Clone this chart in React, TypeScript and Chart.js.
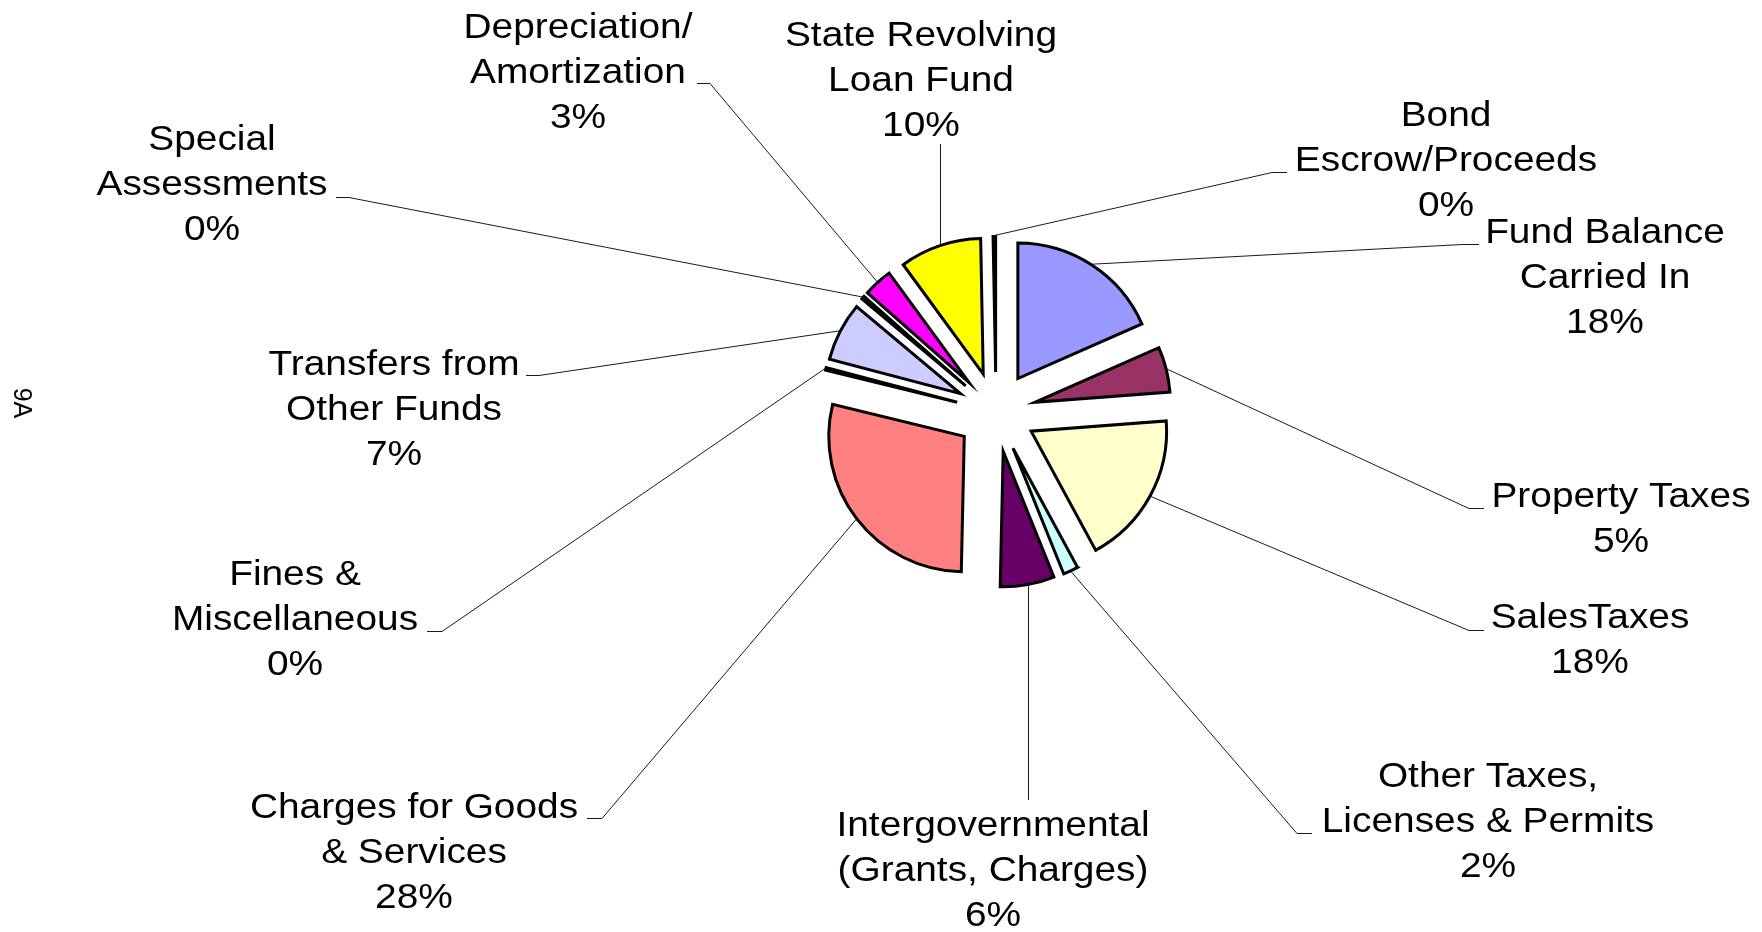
import { useEffect, useRef } from 'react';
import { Chart, registerables } from 'chart.js';

Chart.register(...registerables);

// Revenue sources, clockwise from 12 o'clock
const categories: string[][] = [
  ['Fund Balance', 'Carried In'],
  ['Property Taxes'],
  ['SalesTaxes'],
  ['Other Taxes,', 'Licenses & Permits'],
  ['Intergovernmental', '(Grants, Charges)'],
  ['Charges for Goods', '& Services'],
  ['Fines &', 'Miscellaneous'],
  ['Transfers from', 'Other Funds'],
  ['Special', 'Assessments'],
  ['Depreciation/', 'Amortization'],
  ['State Revolving', 'Loan Fund'],
  ['Bond', 'Escrow/Proceeds'],
];

// Share of total revenue, percent
const shares: number[] = [18.4, 5.4, 18.3, 1.8, 6.45, 28.45, 0.3, 7.0, 0.4, 3.45, 9.75, 0.3];

const sliceColors: string[] = [
  '#9999FF', '#993366', '#FFFFCC', '#CCFFFF', '#660066', '#FF8080',
  '#0066CC', '#CCCCFF', '#000080', '#FF00FF', '#FFFF00', '#00FFFF',
];

const pageMark = '9A';

// Where each data label sits: centre x, first baseline y, leader elbow, end of the short tick.
// A label without a tick gets a straight vertical leader to the elbow height.
type Placement = { x: number; y: number; elbow: [number, number]; tick: number | null };
const labelPlacement: Placement[] = [
  { x: 1605, y: 243, elbow: [1462, 244], tick: 1479 },
  { x: 1621, y: 507, elbow: [1469, 508], tick: 1484 },
  { x: 1590, y: 628, elbow: [1469, 630], tick: 1484 },
  { x: 1488, y: 787, elbow: [1297, 833], tick: 1312 },
  { x: 993, y: 836, elbow: [1024, 800], tick: null },
  { x: 414, y: 818, elbow: [602, 818], tick: 587 },
  { x: 295, y: 585, elbow: [442, 631], tick: 427 },
  { x: 394, y: 375, elbow: [539, 375], tick: 526 },
  { x: 212, y: 150, elbow: [349, 197], tick: 336 },
  { x: 578, y: 38, elbow: [710, 83], tick: 697 },
  { x: 921, y: 46, elbow: [945, 144], tick: null },
  { x: 1446, y: 126, elbow: [1272, 172], tick: 1287 },
];

const WIDTH = 1762;
const HEIGHT = 932;
const EXPLODE = 40;
const RADIUS = 135.5;
const FONT = '35px "Liberation Sans", Arial, sans-serif';
const TEXT_STRETCH = 1.11;
const LINE_HEIGHT = 45;

// Pull every slice out from the common centre along its bisector
const explodePlugin = {
  id: 'explodeSlices',
  beforeDatasetsDraw(chart: any) {
    const { left, right, top, bottom } = chart.chartArea;
    const cx = (left + right) / 2;
    const cy = (top + bottom) / 2;
    chart.getDatasetMeta(0).data.forEach((arc: any) => {
      const mid = (arc.startAngle + arc.endAngle) / 2;
      arc.x = cx + Math.cos(mid) * EXPLODE;
      arc.y = cy + Math.sin(mid) * EXPLODE;
    });
  },
};

// Category / percentage labels with leader lines
const labelPlugin = {
  id: 'sliceLabels',
  afterDraw(chart: any) {
    const ctx: CanvasRenderingContext2D = chart.ctx;
    const total = shares.reduce((a, b) => a + b, 0);
    const arcs = chart.getDatasetMeta(0).data;

    ctx.save();
    ctx.strokeStyle = '#1a1a1a';
    ctx.lineWidth = 1;
    arcs.forEach((arc: any, i: number) => {
      const p = labelPlacement[i];
      const mid = (arc.startAngle + arc.endAngle) / 2;
      const r = arc.outerRadius + 1;
      const sx = arc.x + Math.cos(mid) * r;
      const sy = arc.y + Math.sin(mid) * r;
      ctx.beginPath();
      if (p.tick === null) {
        const vx = Math.round(sx) + 0.5;
        ctx.moveTo(vx, sy);
        ctx.lineTo(vx, p.elbow[1]);
      } else {
        ctx.moveTo(sx, sy);
        ctx.lineTo(p.elbow[0], p.elbow[1] + 0.5);
        ctx.lineTo(p.tick, p.elbow[1] + 0.5);
      }
      ctx.stroke();
    });

    ctx.fillStyle = '#000';
    ctx.font = FONT;
    ctx.textAlign = 'center';
    ctx.textBaseline = 'alphabetic';
    categories.forEach((name, i) => {
      const p = labelPlacement[i];
      const pct = Math.round((shares[i] / total) * 100);
      const lines = [...name, `${pct}%`];
      lines.forEach((line, k) => {
        ctx.save();
        ctx.translate(p.x, p.y + k * LINE_HEIGHT);
        ctx.scale(TEXT_STRETCH, 1);
        ctx.fillText(line, 0, 0);
        ctx.restore();
      });
    });

    // page number printed sideways at the left edge
    ctx.save();
    ctx.translate(14, 403);
    ctx.rotate(Math.PI / 2);
    ctx.font = '25px "Liberation Sans", Arial, sans-serif';
    ctx.textAlign = 'center';
    ctx.fillText(pageMark, 0, 0);
    ctx.restore();

    ctx.restore();
  },
};

export default function App() {
  const canvasRef = useRef<HTMLCanvasElement | null>(null);

  useEffect(() => {
    const canvas = canvasRef.current;
    if (!canvas) return;
    const chart = new Chart(canvas, {
      type: 'pie',
      data: {
        labels: categories.map((c) => c.join(' ')),
        datasets: [
          {
            data: shares,
            backgroundColor: sliceColors,
            borderColor: '#000',
            borderWidth: 3,
            borderJoinStyle: 'miter',
          } as any,
        ],
      },
      options: {
        responsive: false,
        animation: false,
        devicePixelRatio: 1,
        events: [],
        radius: RADIUS,
        layout: { padding: { left: 230, right: 0, top: 0, bottom: 108 } },
        plugins: {
          legend: { display: false },
          tooltip: { enabled: false },
          title: { display: false },
        },
      } as any,
      plugins: [explodePlugin, labelPlugin],
    });
    return () => chart.destroy();
  }, []);

  return (
    <div style={{ position: 'fixed', left: 0, top: 0, width: WIDTH, height: HEIGHT, background: '#fff' }}>
      <canvas ref={canvasRef} width={WIDTH} height={HEIGHT} style={{ display: 'block' }} />
    </div>
  );
}
